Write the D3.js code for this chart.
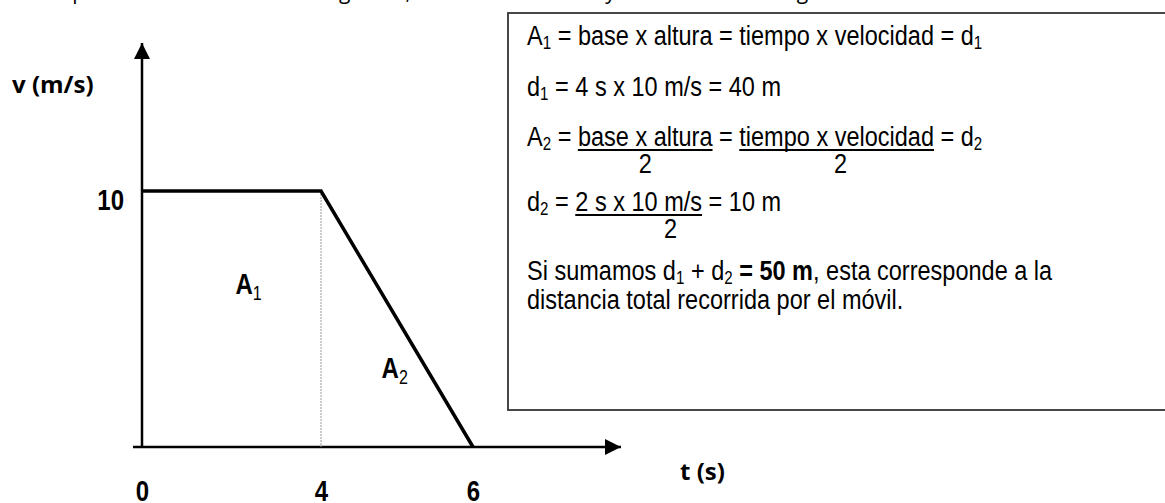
<!DOCTYPE html>
<html>
<head>
<meta charset="utf-8">
<script src="https://cdn.jsdelivr.net/npm/d3@7"></script>
<style>
  body { margin: 0; background: #fff; }
  svg { display: block; }
</style>
</head>
<body>
<div class="chart"></div>
<script>
const width = 1165;
const height = 503;

// v-t graph data
const times = [0, 4, 6];
const speeds = [10, 10, 0];
const timeTicks = ["0", "4", "6"];
const speedTicks = [10];
const areaNames = ["A1", "A2"];

// explanation box lines: [text, style] segments, style: n normal, s sub, u underline, b bold
const boxLines = [
    [["A", "n"], ["1", "s"], [" = base x altura = tiempo x velocidad = d", "n"], ["1", "s"]],
    [["d", "n"], ["1", "s"], [" = 4 s x 10 m/s = 40 m", "n"]],
    [["A", "n"], ["2", "s"], [" = ", "n"], ["base x altura", "u"], [" = ", "n"], ["tiempo x velocidad", "u"], [" = d", "n"], ["2", "s"]],
    [["d", "n"], ["2", "s"], [" = ", "n"], ["2 s x 10 m/s", "u"], [" = 10 m", "n"]],
    [["Si sumamos d", "n"], ["1", "s"], [" + d", "n"], ["2", "s"], [" = 50 m", "b"], [", esta corresponde a la", "n"]],
    [["distancia total recorrida por el móvil.", "n"]]
];
const lineBaselines = [45, 96, 146, 211, 280, 309];
const denominator = "2";
// the third "2" sits right of its fraction's centre in the original
const denomShift = [0, 4, 32];

// Arial Narrow look: Liberation Sans squeezed horizontally
const narrow = 0.84;

const svg = d3.select(".chart")
    .append("svg")
    .attr("width", width)
    .attr("height", height);

function narrowText(x0, y0, str, size, weight) {
    return svg.append("text")
        .attr("transform", `translate(${x0},${y0}) scale(${narrow},1)`)
        .attr("font-family", "Liberation Sans")
        .attr("font-size", size)
        .attr("font-weight", weight || "normal")
        .attr("fill", "black")
        .attr("xml:space", "preserve")
        .style("white-space", "pre")
        .text(str);
}

// sentence from the page above, only its descenders show
svg.append("text")
    .attr("x", 45)
    .attr("y", -1)
    .attr("font-family", "Open Sans")
    .attr("font-size", 21)
    .text("Es posible obtener el área del gráfico, esta es la distancia y se calcula con la figura:");

const x = d3.scaleLinear().domain([0, 4, 6]).range([142, 321, 473]);
const y = d3.scaleLinear().domain([0, 10]).range([447, 191]);

const defs = svg.append("defs");
defs.append("marker")
    .attr("id", "arrow")
    .attr("viewBox", "0 0 10 10")
    .attr("refX", 10)
    .attr("refY", 5)
    .attr("markerWidth", 16)
    .attr("markerHeight", 16)
    .attr("markerUnits", "userSpaceOnUse")
    .attr("orient", "auto")
    .append("path")
    .attr("d", "M0,0L10,5L0,10Z")
    .attr("fill", "black");

// axes lines with arrow heads
svg.append("line")
    .attr("x1", x(0)).attr("y1", y(0))
    .attr("x2", x(0)).attr("y2", 43)
    .attr("stroke", "black").attr("stroke-width", 2.5)
    .attr("marker-end", "url(#arrow)");
svg.append("line")
    .attr("x1", x(0) - 9).attr("y1", y(0))
    .attr("x2", 621).attr("y2", y(0))
    .attr("stroke", "black").attr("stroke-width", 2.5)
    .attr("marker-end", "url(#arrow)");

// tick labels through d3 axes
const xAxis = svg.append("g")
    .attr("transform", `translate(0,${y(0)})`)
    .call(d3.axisBottom(x).tickValues(times).tickSize(0).tickPadding(33)
        .tickFormat((d, i) => timeTicks[i]));
const yAxis = svg.append("g")
    .attr("transform", `translate(${x(0)},0)`)
    .call(d3.axisLeft(y).tickValues(speedTicks).tickSize(0).tickPadding(0));
[xAxis, yAxis].forEach(g => {
    g.select(".domain").remove();
    g.selectAll("text")
        .attr("font-family", "Liberation Sans")
        .attr("font-weight", "bold")
        .attr("font-size", 30)
        .attr("fill", "black");
});
xAxis.selectAll(".tick text")
    .attr("transform", "scale(0.8,1)")
    .attr("x", 0);
yAxis.selectAll(".tick text")
    .attr("transform", "translate(-18,0) scale(0.8,1)")
    .attr("x", 0)
    .attr("dy", "0.6em");

// dotted guide at t = 4
svg.append("line")
    .attr("x1", x(4)).attr("y1", y(10))
    .attr("x2", x(4)).attr("y2", y(0))
    .attr("stroke", "#9a9a9a").attr("stroke-width", 1)
    .attr("stroke-dasharray", "2,1");

// v-t line
const points = times.map((t, i) => [t, speeds[i]]);
svg.append("path")
    .datum(points)
    .attr("d", d3.line().x(d => x(d[0])).y(d => y(d[1])))
    .attr("fill", "none")
    .attr("stroke", "black")
    .attr("stroke-width", 3.5);

// area labels
const areaPos = [[2.38, 6.4], [4.97, 3.1]];
areaNames.forEach((name, i) => {
    const t = svg.append("text")
        .attr("transform", `translate(${x(areaPos[i][0])},${y(areaPos[i][1])}) scale(0.8,1)`)
        .attr("text-anchor", "middle")
        .attr("dy", "0.35em")
        .attr("font-family", "Liberation Sans")
        .attr("font-weight", "bold")
        .attr("font-size", 30);
    t.append("tspan").text(name[0]);
    t.append("tspan").attr("font-size", 20).attr("font-weight", "normal").attr("dy", 6).text(name[1]);
});

// axis titles
svg.append("text")
    .attr("x", 12).attr("y", 93)
    .attr("font-family", "Open Sans").attr("font-weight", "bold")
    .attr("font-size", 24)
    .text("v (m/s)");
svg.append("text")
    .attr("x", 680).attr("y", 480)
    .attr("font-family", "Open Sans").attr("font-weight", "bold")
    .attr("font-size", 24)
    .text("t (s)");

// explanation box
svg.append("rect")
    .attr("x", 508).attr("y", 13)
    .attr("width", 720).attr("height", 397)
    .attr("fill", "white")
    .attr("stroke", "#333")
    .attr("stroke-width", 1.8);

const fontSize = 28;
let fraction = 0;
boxLines.forEach((segs, li) => {
    let cx = 527;
    const base = lineBaselines[li];
    segs.forEach(([str, style]) => {
        const t = narrowText(cx, style === "s" ? base + 4 : base, str,
            style === "s" ? 18 : fontSize, style === "b" ? "bold" : "normal");
        const w = t.node().getComputedTextLength() * narrow;
        if (style === "u") {
            svg.append("line")
                .attr("x1", cx).attr("x2", cx + w)
                .attr("y1", base + 4).attr("y2", base + 4)
                .attr("stroke", "black").attr("stroke-width", 2);
            narrowText(cx + w / 2 + denomShift[fraction], base + 27, denominator, fontSize)
                .attr("text-anchor", "middle");
            fraction += 1;
        }
        cx += w;
    });
});
</script>
</body>
</html>
